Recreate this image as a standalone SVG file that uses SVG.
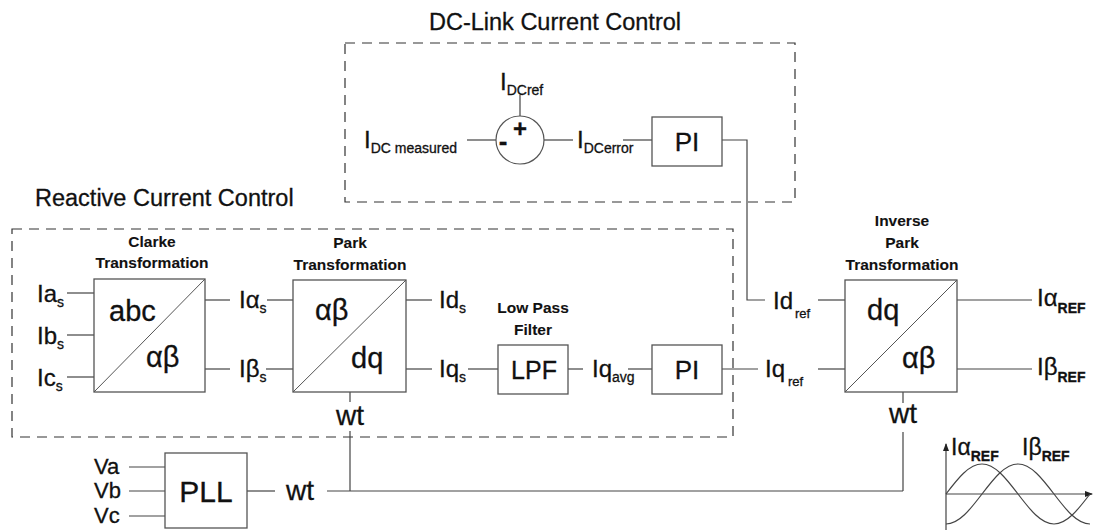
<svg xmlns="http://www.w3.org/2000/svg" width="1094" height="530" viewBox="0 0 1094 530">
<defs>
<style>
.box{fill:#fff;stroke:#555;stroke-width:1.3}
.dash{fill:none;stroke:#333;stroke-width:1.2;stroke-dasharray:10 7}
.wire{fill:none;stroke:#444;stroke-width:1.2}
.diag{fill:none;stroke:#555;stroke-width:1}
.t{font-family:"Liberation Sans",Arial,sans-serif;fill:#111;stroke:#111;stroke-width:0.3}
.title{font-size:23.5px}
.bt{font-size:15.5px;font-weight:bold;text-anchor:middle;stroke-width:0.1}
.lbl{font-size:24px}
.sub{font-size:14px}
.big{font-size:29px}
.mid{text-anchor:middle}
</style>
<marker id="arr" viewBox="0 0 8 8" refX="7" refY="4" markerWidth="8" markerHeight="8" markerUnits="userSpaceOnUse" orient="auto">
<path d="M0,1 L8,4 L0,7 Z" fill="#222"/>
</marker>
</defs>
<rect width="1094" height="530" fill="#fff"/>

<g id="dc-link-control">
<rect class="dash" x="345" y="43" width="450" height="159"/>
<text class="t title mid" x="555" y="30">DC-Link Current Control</text>
</g>

<g id="reactive-control">
<rect class="dash" x="12" y="229" width="721" height="208"/>
<text class="t title" x="35" y="206">Reactive Current Control</text>
</g>

<g id="connectors">
<line class="wire" x1="520" y1="95" x2="520" y2="116"/>
<line class="wire" x1="467" y1="140" x2="496" y2="140"/>
<line class="wire" x1="544" y1="140" x2="573" y2="140"/>
<line class="wire" x1="623" y1="140" x2="652" y2="140"/>
<polyline class="wire" points="722,140 747,140 747,300 765,300"/>
<line class="wire" x1="67" y1="293" x2="94" y2="293"/>
<line class="wire" x1="67" y1="335" x2="94" y2="335"/>
<line class="wire" x1="67" y1="377" x2="94" y2="377"/>
<line class="wire" x1="205" y1="300" x2="230" y2="300"/>
<line class="wire" x1="205" y1="369" x2="230" y2="369"/>
<line class="wire" x1="267" y1="300" x2="293" y2="300"/>
<line class="wire" x1="266" y1="369" x2="293" y2="369"/>
<line class="wire" x1="406" y1="300" x2="432" y2="300"/>
<line class="wire" x1="406" y1="369" x2="432" y2="369"/>
<line class="wire" x1="468" y1="369" x2="498" y2="369"/>
<line class="wire" x1="568" y1="369" x2="583" y2="369"/>
<line class="wire" x1="628" y1="369" x2="652" y2="369"/>
<line class="wire" x1="722" y1="369" x2="758" y2="369"/>
<line class="wire" x1="818" y1="300" x2="845" y2="300"/>
<line class="wire" x1="818" y1="369" x2="845" y2="369"/>
<line class="wire" x1="957" y1="300" x2="1032" y2="300"/>
<line class="wire" x1="957" y1="369" x2="1032" y2="369"/>
<line class="wire" x1="350" y1="392" x2="350" y2="402"/>
<line class="wire" x1="350" y1="431" x2="350" y2="491"/>
<line class="wire" x1="903" y1="392" x2="903" y2="403"/>
<line class="wire" x1="903" y1="432" x2="903" y2="491"/>
<line class="wire" x1="327" y1="491" x2="903" y2="491"/>
<line class="wire" x1="129" y1="467" x2="165" y2="467"/>
<line class="wire" x1="129" y1="491" x2="165" y2="491"/>
<line class="wire" x1="129" y1="516" x2="165" y2="516"/>
<line class="wire" x1="247" y1="491" x2="275" y2="491"/>
</g>

<g id="sum-junction">
<circle cx="520" cy="140" r="24" fill="#fff" stroke="#555" stroke-width="1.2"/>
<text class="t mid" x="520" y="137" font-size="24" font-weight="bold">+</text>
<text class="t mid" x="503" y="150" font-size="26" font-weight="bold">-</text>
</g>

<g id="dc-labels">
<text class="t lbl" x="364" y="148">I<tspan class="sub" dy="5">DC measured</tspan></text>
<text class="t lbl" x="500" y="90">I<tspan class="sub" dy="5">DCref</tspan></text>
<text class="t lbl" x="577" y="148">I<tspan class="sub" dy="5">DCerror</tspan></text>
</g>

<g id="pi-dc">
<rect class="box" x="652" y="117" width="70" height="49"/>
<text class="t mid" x="687" y="151" font-size="26">PI</text>
</g>

<g id="clarke">
<text class="t bt" x="152" y="247">Clarke</text>
<text class="t bt" x="152" y="268">Transformation</text>
<rect class="box" x="94" y="279" width="111" height="113"/>
<line class="diag" x1="94" y1="392" x2="205" y2="279"/>
<text class="t big" x="109" y="321">abc</text>
<text class="t big" x="146" y="367">αβ</text>
</g>

<g id="clarke-labels">
<text class="t lbl" x="37" y="302">Ia<tspan class="sub" dy="5">s</tspan></text>
<text class="t lbl" x="37" y="344">Ib<tspan class="sub" dy="5">s</tspan></text>
<text class="t lbl" x="37" y="386">Ic<tspan class="sub" dy="5">s</tspan></text>
<text class="t lbl" x="239" y="308">Iα<tspan class="sub" dy="5">s</tspan></text>
<text class="t lbl" x="239" y="377">Iβ<tspan class="sub" dy="5">s</tspan></text>
</g>

<g id="park">
<text class="t bt" x="350" y="248">Park</text>
<text class="t bt" x="350" y="270">Transformation</text>
<rect class="box" x="293" y="280" width="113" height="112"/>
<line class="diag" x1="293" y1="392" x2="406" y2="280"/>
<text class="t big" x="315" y="320">αβ</text>
<text class="t big" x="351" y="368">dq</text>
<text class="t mid" x="350" y="425" font-size="28">wt</text>
</g>

<g id="park-labels">
<text class="t lbl" x="439" y="308">Id<tspan class="sub" dy="5">s</tspan></text>
<text class="t lbl" x="439" y="377">Iq<tspan class="sub" dy="5">s</tspan></text>
</g>

<g id="lpf">
<text class="t bt" x="533" y="313">Low Pass</text>
<text class="t bt" x="533" y="335">Filter</text>
<rect class="box" x="498" y="345" width="70" height="49"/>
<text class="t mid" x="534" y="379" font-size="25">LPF</text>
</g>

<g id="iq-avg-label">
<text class="t lbl" x="592" y="377">Iq<tspan class="sub" dy="5">avg</tspan></text>
</g>

<g id="pi-q">
<rect class="box" x="652" y="345" width="70" height="49"/>
<text class="t mid" x="687" y="379" font-size="26">PI</text>
</g>

<g id="ref-labels">
<text class="t lbl" x="773" y="309">Id<tspan font-size="13" dx="2" dy="9">ref</tspan></text>
<text class="t lbl" x="765" y="377">Iq<tspan font-size="13" dx="3" dy="9">ref</tspan></text>
</g>

<g id="inverse-park">
<text class="t bt" x="902" y="226">Inverse</text>
<text class="t bt" x="902" y="248">Park</text>
<text class="t bt" x="902" y="270">Transformation</text>
<rect class="box" x="845" y="280" width="112" height="112"/>
<line class="diag" x1="845" y1="392" x2="957" y2="280"/>
<text class="t big" x="867" y="320">dq</text>
<text class="t big" x="902" y="368">αβ</text>
<text class="t mid" x="903" y="423" font-size="28">wt</text>
</g>

<g id="output-labels">
<text class="t lbl" x="1037" y="306">Iα<tspan class="sub" font-weight="bold" dy="7">REF</tspan></text>
<text class="t lbl" x="1037" y="375">Iβ<tspan class="sub" font-weight="bold" dy="7">REF</tspan></text>
</g>

<g id="pll">
<text class="t" x="94" y="474" font-size="22">Va</text>
<text class="t" x="94" y="498" font-size="22">Vb</text>
<text class="t" x="94" y="523" font-size="22">Vc</text>
<rect class="box" x="165" y="453" width="82" height="75"/>
<text class="t mid" x="206" y="502" font-size="30">PLL</text>
<text class="t" x="286" y="500" font-size="28">wt</text>
</g>

<g id="waveform">
<line class="wire" x1="946" y1="530" x2="946" y2="444" marker-end="url(#arr)"/>
<line class="wire" x1="946" y1="494" x2="1092" y2="494" marker-end="url(#arr)"/>
<path class="wire" d="M946,494 C957.74,478.63 968.97,464 982,464 C995.03,464 1006.26,478.63 1018,494 C1029.74,509.37 1040.97,524 1054,524 C1067.03,524 1078.26,509.37 1090,494"/>
<path class="wire" d="M946,524 C959.03,524 970.26,509.37 982,494 C993.74,478.63 1004.97,464 1018,464 C1031.03,464 1042.26,478.63 1054,494 C1065.74,509.37 1076.97,524 1090,524"/>
<text class="t" x="951" y="455" font-size="23">Iα<tspan font-size="14" font-weight="bold" dy="6">REF</tspan></text>
<text class="t" x="1022" y="455" font-size="23">Iβ<tspan font-size="14" font-weight="bold" dy="6">REF</tspan></text>
</g>
</svg>
